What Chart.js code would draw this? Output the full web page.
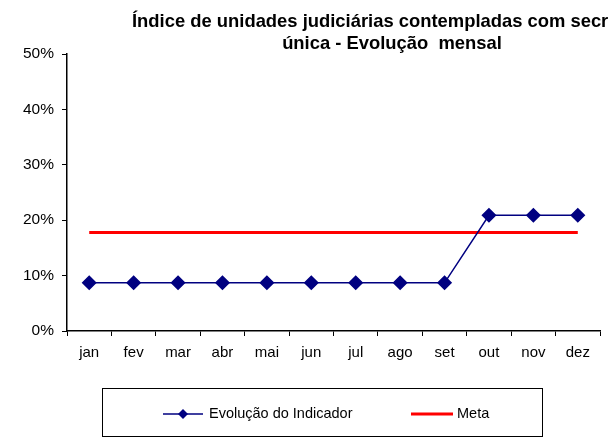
<!DOCTYPE html>
<html>
<head>
<meta charset="utf-8">
<script src="https://cdn.jsdelivr.net/npm/chart.js@4/dist/chart.umd.min.js"></script>
<style>
  html, body { margin: 0; padding: 0; background: #fff; }
  #wrap { width: 608px; height: 438px; }
</style>
</head>
<body>
<div id="wrap"><canvas id="grafico" width="608" height="438"></canvas></div>
<script>
// dados do gráfico
const meses = ["jan", "fev", "mar", "abr", "mai", "jun", "jul", "ago", "set", "out", "nov", "dez"];
const indicador = [8.7, 8.7, 8.7, 8.7, 8.7, 8.7, 8.7, 8.7, 8.7, 20.9, 20.9, 20.9];
const meta = [17.8, 17.8, 17.8, 17.8, 17.8, 17.8, 17.8, 17.8, 17.8, 17.8, 17.8, 17.8];
const ticksY = [0, 10, 20, 30, 40, 50];

const tituloLinhas = ["Índice de unidades judiciárias contempladas com secretaria", "única - Evolução  mensal"];
const fonte = "Arial, 'Liberation Sans', sans-serif";

// título desenhado à mão (a 1ª linha sai cortada como no original)
const tituloPlugin = {
    id: "tituloPlugin",
    afterDraw(chart) {
        const ctx = chart.ctx;
        ctx.save();
        ctx.fillStyle = "#000";
        ctx.font = "bold 18.4px " + fonte;
        ctx.textBaseline = "alphabetic";
        ctx.textAlign = "left";
        ctx.fillText(tituloLinhas[0], 132, 27);
        ctx.textAlign = "center";
        ctx.fillText(tituloLinhas[1], 392, 49);
        ctx.restore();
    }
};

// legenda com moldura
const legendaPlugin = {
    id: "legendaPlugin",
    afterDraw(chart) {
        const ctx = chart.ctx;
        const ds = chart.data.datasets;
        ctx.save();
        ctx.strokeStyle = "#000";
        ctx.lineWidth = 1;
        ctx.strokeRect(102.5, 388.5, 440, 48);

        const cy = 414;
        ctx.font = "14.5px " + fonte;
        ctx.textBaseline = "middle";
        ctx.textAlign = "left";

        // série 1
        ctx.strokeStyle = ds[0].borderColor;
        ctx.lineWidth = ds[0].borderWidth;
        ctx.beginPath();
        ctx.moveTo(163, cy);
        ctx.lineTo(203, cy);
        ctx.stroke();
        ctx.fillStyle = ds[0].pointBackgroundColor;
        ctx.beginPath();
        ctx.moveTo(183, cy - 5);
        ctx.lineTo(188, cy);
        ctx.lineTo(183, cy + 5);
        ctx.lineTo(178, cy);
        ctx.closePath();
        ctx.fill();
        ctx.fillStyle = "#000";
        ctx.fillText(ds[0].label, 209, cy);

        // série 2
        ctx.strokeStyle = ds[1].borderColor;
        ctx.lineWidth = ds[1].borderWidth;
        ctx.beginPath();
        ctx.moveTo(411, cy);
        ctx.lineTo(453, cy);
        ctx.stroke();
        ctx.fillStyle = "#000";
        ctx.fillText(ds[1].label, 457, cy);
        ctx.restore();
    }
};

new Chart(document.getElementById("grafico").getContext("2d"), {
    type: "line",
    data: {
        labels: meses,
        datasets: [
            {
                label: "Evolução do Indicador",
                data: indicador,
                borderColor: "#000080",
                borderWidth: 1.5,
                pointStyle: "rectRot",
                pointRadius: 6.5,
                pointBackgroundColor: "#000080",
                pointBorderColor: "#000080",
                tension: 0
            },
            {
                label: "Meta",
                data: meta,
                borderColor: "#ff0000",
                borderWidth: 3,
                pointRadius: 0,
                tension: 0
            }
        ]
    },
    options: {
        responsive: false,
        animation: false,
        layout: { padding: { top: 54, right: 3, left: 0, bottom: 0 } },
        plugins: {
            legend: { display: false },
            title: { display: false },
            tooltip: { enabled: false }
        },
        scales: {
            x: {
                offset: true,
                afterFit(s) { s.height = 107; },
                grid: {
                    offset: true,
                    drawOnChartArea: false,
                    drawTicks: true,
                    tickLength: 5,
                    color: "#000"
                },
                border: { display: true, color: "#000", width: 1.5 },
                ticks: {
                    color: "#000",
                    font: { family: fonte, size: 15 },
                    padding: 8,
                    maxRotation: 0
                }
            },
            y: {
                min: 0,
                max: 50,
                afterFit(s) { s.width = 67; },
                afterBuildTicks(s) { s.ticks = ticksY.map(v => ({ value: v })); },
                grid: {
                    drawOnChartArea: false,
                    drawTicks: true,
                    tickLength: 5,
                    color: "#000"
                },
                border: { display: true, color: "#000", width: 1.5 },
                ticks: {
                    color: "#000",
                    font: { family: fonte, size: 15.5 },
                    padding: 8,
                    callback: v => v + "%"
                }
            }
        }
    },
    plugins: [tituloPlugin, legendaPlugin]
});
</script>
</body>
</html>
